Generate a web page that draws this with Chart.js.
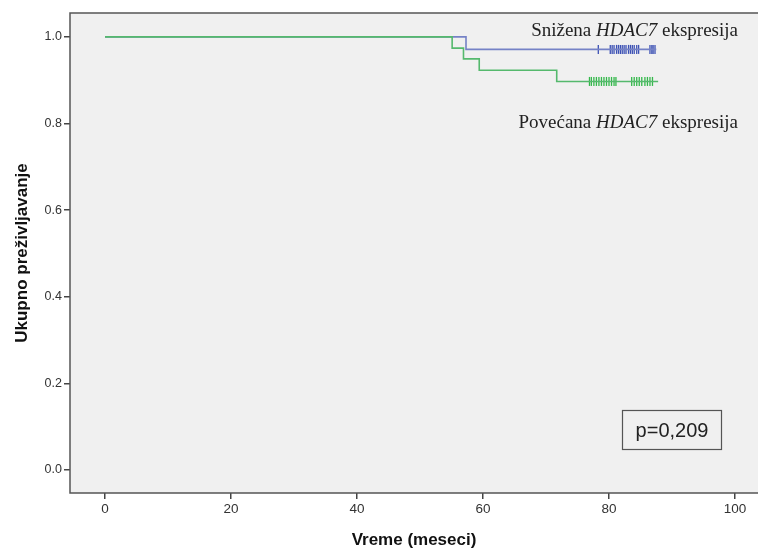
<!DOCTYPE html>
<html>
<head>
<meta charset="utf-8">
<script src="https://cdn.jsdelivr.net/npm/chart.js@4"></script>
<style>
  html, body { margin: 0; padding: 0; background: #fff; }
  #wrap { width: 758px; height: 553px; }
</style>
</head>
<body>
<div id="wrap"><canvas id="km" width="758" height="553"></canvas></div>
<script>
// Kaplan-Meier steps (time in months, cumulative survival)
const lowTimes = [0, 57.3, 87.5];
const lowSurv = [1, 0.971, 0.971];
const highTimes = [0, 55.1, 56.9, 59.4, 71.7, 87.8];
const highSurv = [1, 0.974, 0.949, 0.923, 0.897, 0.897];

// censored observations (months)
const lowCensored = [78.3, 80.2, 80.5, 80.8, 81.2, 81.5, 81.8, 82.1, 82.4, 82.7, 83.1, 83.4,
  83.7, 84.0, 84.4, 84.7, 86.5, 86.8, 87.0, 87.3];
const highCensored = [76.9, 77.2, 77.6, 78.0, 78.4, 78.8, 79.2, 79.6, 80.0, 80.4, 80.8, 81.1,
  83.6, 84.0, 84.4, 84.8, 85.2, 85.7, 86.1, 86.5, 86.9];

const xTicks = [0, 20, 40, 60, 80, 100];
const yTicks = [0, 0.2, 0.4, 0.6, 0.8, 1.0];

const lowLabel = ["Snižena ", "HDAC7", " ekspresija"];
const highLabel = ["Povećana ", "HDAC7", " ekspresija"];
const pText = "p=0,209";

const BLUE = "#7582c6", BLUE_DARK = "#3b50b4";
const GREEN = "#55b96d", GREEN_DARK = "#33b84a";

// survival level at time t for a step curve
function survAt(times, surv, t) {
  let s = surv[0];
  for (let i = 0; i < times.length; i++) if (times[i] <= t) s = surv[i];
  return s;
}

const toXY = (xs, ys) => xs.map((x, i) => ({ x, y: ys[i] }));
const marks = (cens, times, surv) => cens.map(t => ({ x: t, y: survAt(times, surv, t) }));

/* ===== plugin: grey plot panel + frame + texts ===== */
const panel = {
  id: "panel",
  beforeDatasetsDraw(chart) {
    const { ctx, chartArea: a } = chart;
    ctx.save();
    ctx.fillStyle = "#f0f0f0";
    ctx.fillRect(a.left, a.top, a.right - a.left + 10, a.bottom - a.top);
    ctx.strokeStyle = "#555";
    ctx.lineWidth = 1.5;
    ctx.strokeRect(a.left, a.top, a.right - a.left + 10, a.bottom - a.top);
    ctx.restore();
  },
  afterDatasetsDraw(chart) {
    const { ctx, chartArea: a } = chart;
    ctx.save();
    drawLabel(ctx, lowLabel, a.right - 20, 36);
    drawLabel(ctx, highLabel, a.right - 20, 128);

    // p-value box
    ctx.fillStyle = "#f0f0f0";
    ctx.fillRect(622, 410, 99, 39);
    ctx.strokeStyle = "#555";
    ctx.lineWidth = 1.2;
    ctx.strokeRect(622.5, 410.5, 99, 39);
    ctx.fillStyle = "#222";
    ctx.font = "20px 'Liberation Sans', Arial, sans-serif";
    ctx.textAlign = "center";
    ctx.textBaseline = "middle";
    ctx.fillText(pText, 672, 431);
    ctx.restore();
  }
};

function drawLabel(ctx, parts, right, baseline) {
  const fonts = [
    "19px 'Liberation Serif', 'Times New Roman', serif",
    "italic 19px 'Liberation Serif', 'Times New Roman', serif",
    "19px 'Liberation Serif', 'Times New Roman', serif"
  ];
  let total = 0;
  parts.forEach((p, i) => { ctx.font = fonts[i]; total += ctx.measureText(p).width; });
  let x = right - total;
  ctx.fillStyle = "#222";
  ctx.textAlign = "left";
  ctx.textBaseline = "alphabetic";
  parts.forEach((p, i) => {
    ctx.font = fonts[i];
    ctx.fillText(p, x, baseline);
    x += ctx.measureText(p).width;
  });
}

new Chart(document.getElementById("km"), {
  type: "line",
  data: {
    datasets: [
      {
        data: toXY(highTimes, highSurv),
        borderColor: GREEN, borderWidth: 1.6, stepped: "before",
        pointRadius: 0, fill: false
      },
      {
        type: "scatter",
        data: marks(highCensored, highTimes, highSurv),
        pointStyle: "line", rotation: 90, pointRadius: 4.5,
        borderColor: GREEN_DARK, pointBorderWidth: 1.3, showLine: false
      },
      {
        data: toXY(lowTimes, lowSurv),
        borderColor: BLUE, borderWidth: 1.6, stepped: "before",
        pointRadius: 0, fill: false
      },
      {
        type: "scatter",
        data: marks(lowCensored, lowTimes, lowSurv),
        pointStyle: "line", rotation: 90, pointRadius: 4.5,
        borderColor: BLUE_DARK, pointBorderWidth: 1.3, showLine: false
      }
    ]
  },
  options: {
    responsive: false,
    animation: false,
    layout: { autoPadding: false, padding: { top: 13, right: 0, left: 0, bottom: 0 } },
    plugins: { legend: { display: false }, tooltip: { enabled: false } },
    scales: {
      x: {
        type: "linear",
        min: -5.56, max: 103.65,
        afterFit: s => { s.height = 60; s.paddingLeft = 0; s.paddingRight = 0; },
        afterBuildTicks: s => { s.ticks = xTicks.map(v => ({ value: v })); },
        grid: { drawOnChartArea: false, drawTicks: true, tickLength: 6, color: "#444", lineWidth: 1.5 },
        border: { display: false },
        ticks: {
          color: "#333", padding: 2, maxRotation: 0,
          font: { family: "'Liberation Sans Narrow', 'Liberation Sans', Arial", size: 13.5 },
          callback: v => String(v)
        },
        title: {
          display: true, text: "Vreme (meseci)", color: "#111",
          font: { family: "'Liberation Sans', Arial", size: 17, weight: "bold" },
          padding: { bottom: 2 }
        }
      },
      y: {
        min: -0.053, max: 1.055,
        afterFit: s => { s.width = 70; },
        afterBuildTicks: s => { s.ticks = yTicks.map(v => ({ value: v })); },
        grid: { drawOnChartArea: false, drawTicks: true, tickLength: 6, color: "#444", lineWidth: 1.5 },
        border: { display: false },
        ticks: {
          color: "#333", padding: 2,
          font: { family: "'Liberation Sans', Arial", size: 12.5 },
          callback: v => v.toFixed(1)
        },
        title: {
          display: true, text: "Ukupno preživljavanje", color: "#111",
          font: { family: "'Liberation Sans', Arial", size: 17, weight: "bold" },
          padding: { top: 12 }
        }
      }
    }
  },
  plugins: [panel]
});
</script>
</body>
</html>
